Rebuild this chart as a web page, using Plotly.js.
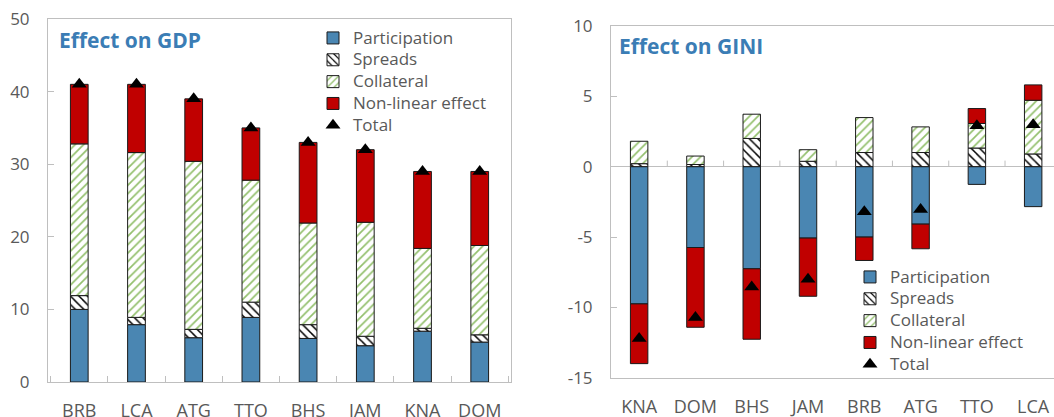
<!DOCTYPE html>
<html>
<head>
<meta charset="utf-8">
<script src="https://cdn.plot.ly/plotly-3.0.1.min.js"></script>
<style>html,body{margin:0;padding:0;background:#fff;}#chart{width:1054px;height:417px;}</style>
</head>
<body>
<div id="chart"></div>
<script>
// ---- Data: Effect on GDP ----
const gdpCategories = ['BRB', 'LCA', 'ATG', 'TTO', 'BHS', 'JAM', 'KNA', 'DOM'];
const gdpParticipation = [10.0, 7.9, 6.1, 8.9, 6.0, 5.0, 7.0, 5.5];
const gdpSpreads = [1.9, 1.0, 1.15, 2.1, 1.9, 1.3, 0.4, 1.0];
const gdpCollateral = [20.9, 22.7, 23.15, 16.8, 14.0, 15.7, 11.0, 12.3];
const gdpNonLinear = [8.2, 9.4, 8.6, 7.2, 11.1, 10.0, 10.6, 10.2];
const gdpTotal = [41, 41, 39, 35, 33, 32, 29, 29];

// ---- Data: Effect on GINI ----
const giniCategories = ['KNA', 'DOM', 'BHS', 'JAM', 'BRB', 'ATG', 'TTO', 'LCA'];
const giniParticipation = [-9.74, -5.74, -7.25, -5.07, -5.0, -4.08, -1.26, -2.84];
const giniSpreads = [0.21, 0.15, 2.0, 0.38, 1.0, 1.0, 1.32, 0.9];
const giniCollateral = [1.59, 0.6, 1.72, 0.82, 2.48, 1.82, 1.74, 3.81];
const giniNonLinear = [-4.24, -5.66, -5.0, -4.13, -1.66, -1.75, 1.06, 1.09];
const giniTotal = [-12.2, -10.7, -8.55, -8.0, -3.2, -3.05, 2.9, 2.97];

// ---- Tick labels ----
const gdpTickVals = [0, 10, 20, 30, 40, 50];
const gdpTickText = ['0', '10', '20', '30', '40', '50'];
const giniTickVals = [-15, -10, -5, 0, 5, 10];
const giniTickText = ['-15', '-10', '-5', '0', '5', '10'];

const seriesNames = ['Participation', 'Spreads', 'Collateral', 'Non-linear effect', 'Total'];

// ---- Styles ----
const W = 1054, H = 417;
const FONT = '"Open Sans", "Noto Sans", sans-serif';
const TXT = '#595959';
const AXC = '#bfbfbf';
const outline = {color: '#1a1a1a', width: 1};
const barStyles = [
  {color: '#4a86b2', line: outline},
  {color: '#ffffff', line: outline, pattern: {shape: '\\', fgcolor: '#000000', bgcolor: '#ffffff', size: 6, solidity: 0.25}},
  {color: '#ffffff', line: outline, pattern: {shape: '/', fgcolor: '#93c06d', bgcolor: '#ffffff', size: 6, solidity: 0.28}},
  {color: '#c00000', line: outline}
];
// legend label: larger glyphs while keeping compact row spacing
const legendLabel = name => '<span style="font-size:17px">' + name + '</span>';

function makeTraces(cats, comps, total, xa, ya, legend) {
  const tr = comps.map((vals, i) => ({
    type: 'bar', name: legendLabel(seriesNames[i]), x: cats, y: vals,
    xaxis: xa, yaxis: ya, legend: legend,
    marker: barStyles[i], width: 0.31, hoverinfo: 'x+y'
  }));
  tr.push({
    type: 'scatter', mode: 'markers', name: legendLabel(seriesNames[4]), x: cats, y: total,
    xaxis: xa, yaxis: ya, legend: legend, cliponaxis: false,
    marker: {symbol: 'triangle-up', size: 13, color: '#000000'}
  });
  return tr;
}

const traces = []
  .concat(makeTraces(gdpCategories, [gdpParticipation, gdpSpreads, gdpCollateral, gdpNonLinear], gdpTotal, 'x', 'y', 'legend'))
  .concat(makeTraces(giniCategories, [giniParticipation, giniSpreads, giniCollateral, giniNonLinear], giniTotal, 'x2', 'y2', 'legend2'));

const px = v => v / W;
const py = v => 1 - v / H;

const tickFont = {family: FONT, size: 17, color: TXT};
const xTickFont = {family: FONT, size: 18, color: TXT};
const legendBase = {
  font: {family: FONT, size: 14.5, color: TXT}, bgcolor: 'rgba(0,0,0,0)',
  traceorder: 'normal', xanchor: 'left', yanchor: 'top', borderwidth: 0,
  itemclick: false, itemdoubleclick: false
};

// tick marks on zero line of GINI chart (at category boundaries)
const zeroTicks = [];
for (let k = 0; k < giniCategories.length; k++) {
  zeroTicks.push({
    type: 'line', xref: 'x2', yref: 'y2', x0: k + 0.5, x1: k + 0.5,
    ysizemode: 'pixel', yanchor: 0, y0: 0, y1: 6,
    line: {color: AXC, width: 1}, layer: 'above'
  });
}

const layout = {
  width: W, height: H,
  margin: {l: 0, r: 0, t: 0, b: 0},
  paper_bgcolor: '#ffffff', plot_bgcolor: '#ffffff',
  barmode: 'relative',
  font: {family: FONT, color: TXT},
  xaxis: {
    domain: [px(48), px(511)], anchor: 'y', type: 'category',
    categoryorder: 'array', categoryarray: gdpCategories,
    showline: true, linecolor: AXC, linewidth: 1, mirror: true,
    ticks: 'inside', tickson: 'boundaries', ticklen: 6, tickcolor: AXC,
    showgrid: false, zeroline: false, tickfont: xTickFont, ticklabelstandoff: 12,
    automargin: false, fixedrange: true
  },
  yaxis: {
    domain: [py(382), py(19)], anchor: 'x', range: [0, 50],
    tickvals: gdpTickVals, ticktext: gdpTickText,
    showline: true, linecolor: AXC, linewidth: 1, mirror: true,
    ticks: 'inside', ticklen: 6, tickcolor: AXC,
    showgrid: false, zeroline: false, tickfont: tickFont, ticklabelstandoff: 14,
    automargin: false, fixedrange: true
  },
  xaxis2: {
    domain: [px(611), 1], anchor: 'y2', type: 'category',
    categoryorder: 'array', categoryarray: giniCategories, range: [-0.5, 7.37],
    showline: true, linecolor: AXC, linewidth: 1, mirror: true,
    ticks: '', showgrid: false, zeroline: false, tickfont: xTickFont, ticklabelstandoff: 12,
    automargin: false, fixedrange: true
  },
  yaxis2: {
    domain: [py(378), py(25.7)], anchor: 'x2', range: [-15, 10],
    tickvals: giniTickVals, ticktext: giniTickText,
    showline: true, linecolor: AXC, linewidth: 1, mirror: false,
    ticks: 'inside', ticklen: 6, tickcolor: AXC,
    showgrid: false, zeroline: true, zerolinecolor: AXC, zerolinewidth: 1,
    tickfont: tickFont, ticklabelstandoff: 14,
    automargin: false, fixedrange: true
  },
  legend: Object.assign({}, legendBase, {x: px(313), y: py(22)}),
  legend2: Object.assign({}, legendBase, {x: px(850), y: py(261)}),
  annotations: [
    {text: '<b>Effect on GDP</b>', xref: 'paper', yref: 'paper', x: px(57), y: py(40),
     xanchor: 'left', yanchor: 'middle', showarrow: false,
     font: {family: FONT, size: 21, color: '#3b7db5'}},
    {text: '<b>Effect on GINI</b>', xref: 'paper', yref: 'paper', x: px(617), y: py(46),
     xanchor: 'left', yanchor: 'middle', showarrow: false,
     font: {family: FONT, size: 21, color: '#3b7db5'}}
  ],
  shapes: zeroTicks,
  showlegend: true
};

Plotly.newPlot('chart', traces, layout, {displayModeBar: false, staticPlot: true});
</script>
</body>
</html>
